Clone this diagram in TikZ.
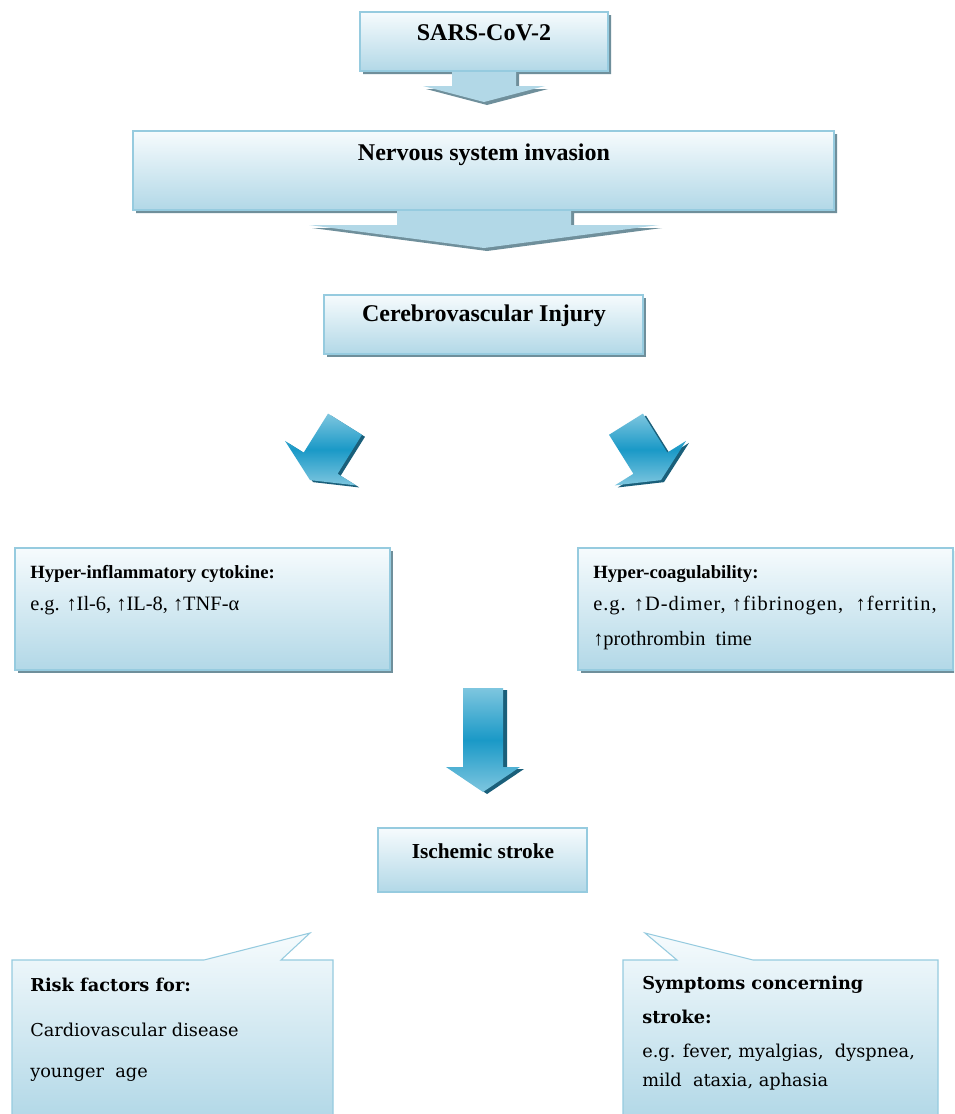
\documentclass[tikz,border=0pt]{standalone}
\usepackage{fontspec}
\setmainfont{Liberation Serif}
\newfontfamily\cambriafont{DejaVu Serif}
\usetikzlibrary{positioning}

\definecolor{paletop}{HTML}{F6FBFD}
\definecolor{palebot}{HTML}{B2D8E7}
\definecolor{paleline}{HTML}{96CBDF}
\definecolor{dropshade}{HTML}{6F8F9B}
\definecolor{arrowlite}{HTML}{7EC6DF}
\definecolor{arrowmid}{HTML}{1A99C7}
\definecolor{arrowdeep}{HTML}{1A5F7A}

\begin{document}
\begin{tikzpicture}[x=0.75pt,y=-0.75pt,
    boxtitle/.style={font=\fontsize{18}{21}\selectfont\bfseries, inner sep=0pt},
    boxhead/.style={font=\fontsize{14}{17}\selectfont\bfseries, anchor=west, inner sep=0pt},
    body/.style={font=\fontsize{15.3}{18}\selectfont, anchor=west, inner sep=0pt},
    chead/.style={font=\cambriafont\fontsize{13.3}{16}\selectfont\bfseries, anchor=west, inner sep=0pt},
    cbody/.style={font=\cambriafont\fontsize{13.3}{16}\selectfont, anchor=west, inner sep=0pt},
    panel/.style={top color=paletop, bottom color=palebot, draw=paleline, line width=0.8pt},
    dropshadow/.style={fill=dropshade},
    bluearrow/.style={top color=arrowlite, bottom color=arrowlite, middle color=arrowmid},
    bluedepth/.style={fill=arrowdeep},
    sarsout/.style={insert path={(360,12) -- (608,12) -- (608,71) -- (516,71) -- (516,86) -- (545,86) -- (484,102) -- (423,86) -- (452,86) -- (452,71) -- (360,71) -- cycle}},
    invasionout/.style={insert path={(133,131) -- (834,131) -- (834,210) -- (571,210) -- (571,225) -- (659,225) -- (484,248) -- (309,225) -- (397,225) -- (397,210) -- (133,210) -- cycle}},
    bigarrow/.style={insert path={(-20,-34) -- (20,-34) -- (20,12) -- (42,12) -- (0,32) -- (-42,12) -- (-20,12) -- cycle}},
    downarrow/.style={insert path={(463,688) -- (503,688) -- (503,767) -- (520,767) -- (483,792) -- (446,767) -- (463,767) -- cycle}}]
\useasboundingbox (0,0) rectangle (954,1114);
\clip (0,0) rectangle (954,1114);
\fill[white] (0,0) rectangle (954,1114);

% top callouts
\path[dropshadow, shift={(3,3)}, sarsout];
\path[fill=palebot, sarsout];
\path[panel] (360,12) rectangle (608,71);
\node[boxtitle] (sars) at (484,33) {SARS-CoV-2};

\path[dropshadow, shift={(3,3)}, invasionout];
\path[fill=palebot, invasionout];
\path[panel] (133,131) rectangle (834,210);
\node[boxtitle] (invasion) at (484,155) {Nervous system invasion};

\path[dropshadow] (327,298) rectangle (646,357);
\path[panel] (324,295) rectangle (643,354);
\node[boxtitle] (injury) at (484,316) {Cerebrovascular Injury};

% split arrows
\path[bluedepth, shift={(330,455)}, rotate=-32, bigarrow];
\path[bluearrow, shift={(327,453)}, rotate=-32, bigarrow];
\path[bluedepth, shift={(647,455)}, rotate=32, bigarrow];
\path[bluearrow, shift={(644,453)}, rotate=32, bigarrow];

% mechanisms
\path[dropshadow] (18,551) rectangle (393,673);
\path[panel] (15,548) rectangle (390,670);
\node[boxhead] (inflam) at (30,574) {Hyper-inflammatory cytokine:};
\node[body] (cytokines) at (30,606) {e.g. ↑Il-6, ↑IL-8, ↑TNF-α};

\path[dropshadow] (581,551) rectangle (956,673);
\path[panel] (578,548) rectangle (953,670);
\node[boxhead] (coag) at (593,574) {Hyper-coagulability:};
\node[body] (markers) at (593,606) {\addfontfeature{LetterSpace=5}e.g. ↑D-dimer, ↑fibrinogen,\ \ ↑ferritin,};
\node[body] (ptime) at (593,641) {↑prothrombin\ \ time};

\path[bluedepth, shift={(4,2)}, downarrow];
\path[bluearrow, downarrow];

\path[panel] (378,828) rectangle (587,892);
\node[boxtitle, font=\fontsize{16}{19}\selectfont\bfseries] (stroke) at (483,851) {Ischemic stroke};

% speech callouts
\path[panel] (12,960) -- (204,960) -- (310,933) -- (281,960) -- (333,960) -- (333,1118) -- (12,1118) -- cycle;
\node[chead] (risk) at (30,985) {Risk factors for:};
\node[cbody] (cvd) at (30,1030) {Cardiovascular disease};
\node[cbody] (age) at (30,1075) {younger\ \ age};

\path[panel] (623,960) -- (677,960) -- (645,933) -- (753,960) -- (938,960) -- (938,1118) -- (623,1118) -- cycle;
\node[chead] (symptoms) at (642,985) {Symptoms concerning};
\node[chead] (symptoms2) at (642,1017) {stroke:};
\node[cbody] (signs) at (642,1053) {e.g. fever, myalgias,\ \ dyspnea,};
\node[cbody] (signs2) at (642,1082) {mild\ \ ataxia, aphasia};
\end{tikzpicture}
\end{document}
